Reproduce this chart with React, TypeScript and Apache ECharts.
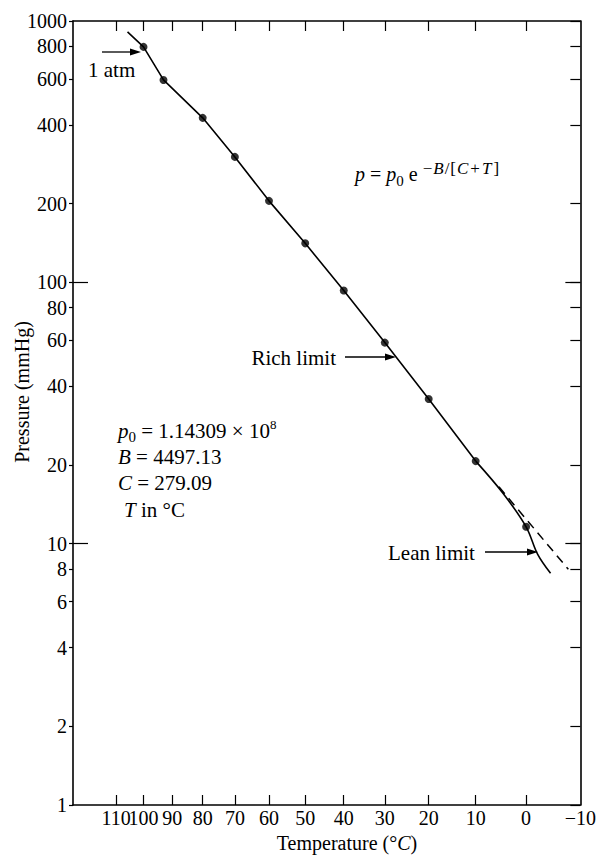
import { useEffect, useRef } from "react";
import * as echarts from "echarts";

// ---- data ----
const tickTemps = [110, 100, 90, 80, 70, 60, 50, 40, 30, 20, 10, 0];
const labelTemps = [110, 100, 90, 80, 70, 60, 50, 40, 30, 20, 10, 0, -10];
const pressureTicks = [1, 2, 4, 6, 8, 10, 20, 40, 60, 80, 100, 200, 400, 600, 800, 1000];
const decadeTicks = [10, 100];

const dotTemps = [100, 93, 80, 70, 60, 50, 40, 30, 20, 10, 0];
const dotPressures = [796, 595, 426, 302, 205, 141, 93, 58.8, 35.8, 20.7, 11.6];

// solid vapour-pressure line (rich side)
const curveTemps = [105.8, 100, 93, 80, 70, 60, 50, 40, 30, 20, 10];
const curvePressures = [908, 796, 595, 426, 302, 205, 141, 93, 58.8, 35.8, 20.7];

// solid line bending towards the lean limit
const leanTemps = [10, 4.5, 0, -2.2, -4.6];
const leanPressures = [20.7, 15.6, 11.6, 9.1, 7.7];

// dashed straight extrapolation
const dashedTemps = [5.3, -7.85];
const dashedPressures = [16.5, 7.98];

const tempLeft = 127;
const tempRight = -10;
const pressureMin = 1;
const pressureMax = 1000;

// reciprocal temperature axis (1000 / K) and log pressure axis
const u = (t: number) => 1000 / (t + 273.15);
const lg = (p: number) => Math.log10(p);

const FONT = "'Liberation Serif', 'Times New Roman', serif";

function measure(text: string, size: number, italic: boolean) {
  const c = document.createElement("canvas").getContext("2d")!;
  c.font = `${italic ? "italic " : ""}${size}px ${FONT}`;
  return c.measureText(text).width;
}

type Run = { t: string; s: number; i?: boolean; dy?: number; gap?: number };

function runs(list: Run[], x0: number, baseline: number) {
  const out: any[] = [];
  let x = x0;
  for (const r of list) {
    const w = measure(r.t, r.s, !!r.i);
    out.push({
      type: "text",
      x,
      y: baseline + (r.dy || 0) - 0.34 * r.s,
      silent: true,
      style: {
        text: r.t,
        fontFamily: FONT,
        fontSize: r.s,
        fontStyle: r.i ? "italic" : "normal",
        fill: "#000",
        align: "left",
        verticalAlign: "middle",
      },
    });
    x += w + (r.gap || 0);
  }
  return out;
}

function arrow(x1: number, y: number, x2: number) {
  return [
    {
      type: "line",
      silent: true,
      shape: { x1, y1: y, x2: x2 - 8, y2: y },
      style: { stroke: "#000", lineWidth: 1.3 },
    },
    {
      type: "polygon",
      silent: true,
      shape: { points: [[x2, y], [x2 - 11, y - 3.5], [x2 - 11, y + 3.5]] },
      style: { fill: "#000" },
    },
  ];
}

export default function App() {
  const ref = useRef<HTMLDivElement>(null);

  useEffect(() => {
    document.body.style.margin = "0";
    const chart = echarts.init(ref.current!, null, { renderer: "svg" });

    const axisLine = { show: true, onZero: false, lineStyle: { color: "#000", width: 1.6 } };
    const xBase = { type: "value", min: u(tempLeft), max: u(tempRight), splitLine: { show: false }, axisLine };
    const yBase = { type: "value", min: lg(pressureMin), max: lg(pressureMax), splitLine: { show: false }, axisLine };
    const tickLine = { color: "#000", width: 1.2 };

    const fmtT = (v: number) => {
      const t = Math.round(1000 / v - 273.15);
      return t < 0 ? "\u2212" + Math.abs(t) : String(t);
    };
    const xLabelStyle = {
      show: true,
      formatter: fmtT,
      fontFamily: FONT,
      fontSize: 20,
      color: "#000",
      margin: 3,
      interval: 0,
      hideOverlap: false,
      showMinLabel: true,
      showMaxLabel: true,
    };

    const sup = -7;
    const graphics: any[] = [
      // axis titles
      {
        type: "text",
        x: 22,
        y: 392,
        rotation: Math.PI / 2,
        silent: true,
        style: { text: "Pressure (mmHg)", fontFamily: FONT, fontSize: 20, fill: "#000", align: "center", verticalAlign: "middle" },
      },
      {
        type: "text",
        x: 347,
        y: 843,
        silent: true,
        style: {
          text: "Temperature (°{i|C})",
          fontFamily: FONT,
          fontSize: 20,
          fill: "#000",
          align: "center",
          verticalAlign: "middle",
          rich: { i: { fontFamily: FONT, fontSize: 20, fontStyle: "italic", fill: "#000" } },
        },
      },
      // annotations
      {
        type: "text",
        x: 88,
        y: 70,
        silent: true,
        style: { text: "1 atm", fontFamily: FONT, fontSize: 21, fill: "#000", align: "left", verticalAlign: "middle" },
      },
      ...arrow(102, 52, 141),
      {
        type: "text",
        x: 336,
        y: 358,
        silent: true,
        style: { text: "Rich limit", fontFamily: FONT, fontSize: 21, fill: "#000", align: "right", verticalAlign: "middle" },
      },
      ...arrow(345, 357, 396),
      {
        type: "text",
        x: 388,
        y: 553,
        silent: true,
        style: { text: "Lean limit", fontFamily: FONT, fontSize: 21, fill: "#000", align: "left", verticalAlign: "middle" },
      },
      ...arrow(485, 552, 538),
      // formula
      ...runs(
        [
          { t: "p", s: 20, i: true },
          { t: " = ", s: 20 },
          { t: "p", s: 20, i: true },
          { t: "0", s: 15, dy: 5 },
          { t: " e ", s: 20 },
          { t: "\u2212", s: 17, dy: sup, gap: 1 },
          { t: "B", s: 17, i: true, dy: sup, gap: 1 },
          { t: "/", s: 17, dy: sup, gap: 1 },
          { t: "[", s: 17, dy: sup, gap: 1 },
          { t: "C", s: 17, i: true, dy: sup, gap: 2 },
          { t: "+", s: 17, dy: sup, gap: 2 },
          { t: "T", s: 17, i: true, dy: sup, gap: 2 },
          { t: "]", s: 17, dy: sup },
        ],
        355,
        181
      ),
      // constants block
      ...runs(
        [
          { t: "p", s: 21, i: true },
          { t: "0", s: 15, dy: 4 },
          { t: " = 1.14309 \u00d7 10", s: 21 },
          { t: "8", s: 13, dy: -9 },
        ],
        118,
        438
      ),
      ...runs([{ t: "B", s: 21, i: true }, { t: " = 4497.13", s: 21 }], 118, 464),
      ...runs([{ t: "C", s: 21, i: true }, { t: " = 279.09", s: 21 }], 118, 490),
      ...runs([{ t: "T", s: 21, i: true }, { t: " in \u00b0C", s: 21 }], 124, 517),
    ];

    chart.setOption({
      animation: false,
      backgroundColor: "#fff",
      grid: { left: 73, right: 15, top: 21, bottom: 58, containLabel: false },
      xAxis: [
        {
          ...xBase,
          position: "bottom",
          axisTick: { show: true, inside: true, length: 10, customValues: tickTemps.map(u), lineStyle: tickLine },
          axisLabel: { ...xLabelStyle, customValues: labelTemps.slice(1).map(u) },
        },
        {
          ...xBase,
          position: "top",
          axisTick: { show: true, inside: true, length: 10, customValues: tickTemps.map(u), lineStyle: tickLine },
          axisLabel: { show: false },
        },
        {
          ...xBase,
          position: "bottom",
          axisLine: { show: false },
          axisTick: { show: false },
          axisLabel: { ...xLabelStyle, customValues: labelTemps.slice(0, 1).map(u) },
        },
      ],
      yAxis: [
        {
          ...yBase,
          position: "left",
          axisTick: { show: true, inside: false, length: 4, customValues: pressureTicks.map(lg), lineStyle: tickLine },
          axisLabel: {
            show: true,
            customValues: pressureTicks.map(lg),
            formatter: (v: number) => String(Math.round(Math.pow(10, v))),
            fontFamily: FONT,
            fontSize: 20,
            color: "#000",
            margin: 6,
            interval: 0,
            hideOverlap: false,
          },
        },
        {
          ...yBase,
          position: "left",
          axisLine: { show: false },
          axisTick: { show: true, inside: true, length: 15, customValues: decadeTicks.map(lg), lineStyle: tickLine },
          axisLabel: { show: false },
        },
        {
          ...yBase,
          position: "right",
          axisTick: { show: true, inside: true, length: 10, customValues: pressureTicks.map(lg), lineStyle: tickLine },
          axisLabel: { show: false },
        },
        {
          ...yBase,
          position: "right",
          axisLine: { show: false },
          axisTick: { show: true, inside: true, length: 15, customValues: decadeTicks.map(lg), lineStyle: tickLine },
          axisLabel: { show: false },
        },
      ],
      series: [
        {
          type: "line",
          xAxisIndex: 0,
          yAxisIndex: 0,
          data: curveTemps.map((t, i) => [u(t), lg(curvePressures[i])]),
          showSymbol: false,
          symbol: "none",
          lineStyle: { color: "#000", width: 1.6 },
          silent: true,
        },
        {
          type: "line",
          xAxisIndex: 0,
          yAxisIndex: 0,
          data: leanTemps.map((t, i) => [u(t), lg(leanPressures[i])]),
          showSymbol: false,
          symbol: "none",
          smooth: 0.35,
          lineStyle: { color: "#000", width: 1.6 },
          silent: true,
        },
        {
          type: "line",
          xAxisIndex: 0,
          yAxisIndex: 0,
          data: dashedTemps.map((t, i) => [u(t), lg(dashedPressures[i])]),
          showSymbol: false,
          symbol: "none",
          lineStyle: { color: "#000", width: 1.5, type: [9, 6] },
          silent: true,
        },
        {
          type: "scatter",
          xAxisIndex: 0,
          yAxisIndex: 0,
          data: dotTemps.map((t, i) => [u(t), lg(dotPressures[i])]),
          symbol: "circle",
          symbolSize: 8,
          itemStyle: { color: "#000" },
          silent: true,
        },
      ],
      graphic: graphics,
    });

    return () => chart.dispose();
  }, []);

  return <div ref={ref} style={{ width: 599, height: 863 }} />;
}
